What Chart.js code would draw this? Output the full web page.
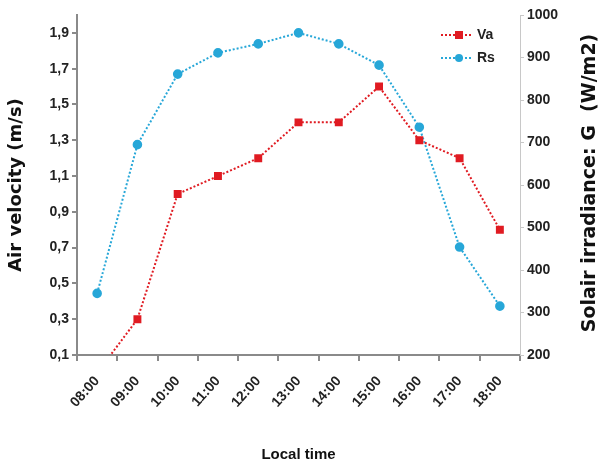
<!DOCTYPE html>
<html lang="en">
<head>
  <meta charset="UTF-8" />
  <title>Air velocity and solar irradiance</title>
  <script src="https://cdn.jsdelivr.net/npm/chart.js"></script>
  <style>
    * { margin: 0; padding: 0; box-sizing: border-box; }
    body { background: #fff; width: 604px; height: 464px; overflow: hidden; }
    canvas { display: block; }
  </style>
</head>
<body>
  <canvas id="grafico" width="604" height="464"></canvas>

<script>
  // data
  const horas = ["08:00", "09:00", "10:00", "11:00", "12:00", "13:00", "14:00", "15:00", "16:00", "17:00", "18:00"];
  const va = [0.0, 0.3, 1.0, 1.1, 1.2, 1.4, 1.4, 1.6, 1.3, 1.2, 0.8];
  const rs = [345, 695, 861, 911, 932, 958, 932, 882, 736, 454, 315];
  const ticksEsq = [0.1, 0.3, 0.5, 0.7, 0.9, 1.1, 1.3, 1.5, 1.7, 1.9];
  const ticksDir = [200, 300, 400, 500, 600, 700, 800, 900, 1000];

  const corVa = "#e01b22";
  const corRs = "#27a7d8";
  const fonte = "'Liberation Sans Narrow', 'Liberation Sans', Arial, sans-serif";
  const fonteTitulo = "'DejaVu Sans', sans-serif";

  const legendaPlugin = {
    id: "legendaDentro",
    afterDraw(chart) {
      const ctx = chart.ctx;
      const area = chart.chartArea;
      const itens = chart.data.datasets;
      ctx.save();
      itens.forEach((ds, i) => {
        const y = area.top + 20 + i * 23;
        const x0 = area.right - 79;
        ctx.strokeStyle = ds.borderColor;
        ctx.lineWidth = 2;
        ctx.setLineDash([2, 2]);
        ctx.beginPath();
        ctx.moveTo(x0, y);
        ctx.lineTo(x0 + 32, y);
        ctx.stroke();
        ctx.setLineDash([]);
        ctx.fillStyle = ds.borderColor;
        if (ds.pointStyle === "rect") {
          ctx.fillRect(x0 + 14, y - 4, 8, 8);
        } else {
          ctx.beginPath();
          ctx.arc(x0 + 18, y, 4, 0, Math.PI * 2);
          ctx.fill();
        }
        ctx.fillStyle = "#222";
        ctx.font = "bold 14px " + fonte;
        ctx.textBaseline = "middle";
        ctx.fillText(ds.label, x0 + 36, y);
      });
      // right axis title, reading bottom to top
      ctx.translate(590, (area.top + area.bottom) / 2 - 2);
      ctx.rotate(-Math.PI / 2);
      ctx.font = "bold 19px " + fonteTitulo;
      ctx.textAlign = "center";
      ctx.textBaseline = "middle";
      ctx.fillStyle = "#111";
      ctx.fillText("Solair irradiance: G  (W/m2)", 0, 0);
      ctx.restore();
    }
  };

  function virgula(v) {
    return v.toFixed(1).replace(".", ",");
  }

  new Chart(document.getElementById("grafico").getContext("2d"), {
    type: "line",
    data: {
      labels: horas,
      datasets: [
        {
          label: "Va",
          data: va,
          yAxisID: "y",
          borderColor: corVa,
          backgroundColor: corVa,
          borderWidth: 2,
          borderDash: [2, 2],
          pointStyle: "rect",
          pointRadius: 4.2,
          tension: 0,
        },
        {
          label: "Rs",
          data: rs,
          yAxisID: "y1",
          borderColor: corRs,
          backgroundColor: corRs,
          borderWidth: 2,
          borderDash: [2, 2],
          pointStyle: "circle",
          pointRadius: 3.8,
          tension: 0,
        }
      ],
    },
    options: {
      responsive: false,
      animation: false,
      layout: { padding: { top: 15, left: 0, right: 0, bottom: 0 } },
      plugins: {
        legend: { display: false },
        tooltip: { enabled: false },
      },
      scales: {
        x: {
          offset: true,
          grid: { offset: true, drawOnChartArea: false, tickLength: 6, color: "#8a8a8a", lineWidth: 2 },
          border: { color: "#8a8a8a", width: 2 },
          ticks: {
            minRotation: 48,
            maxRotation: 48,
            padding: 12,
            color: "#222",
            font: { family: fonte, size: 14, weight: "bold" },
          },
          title: {
            display: true,
            text: "Local time",
            color: "#111",
            font: { family: fonte, size: 15, weight: "bold" },
            padding: { top: 0, bottom: 0 },
          },
          afterFit(s) { s.height = 109; },
        },
        y: {
          position: "left",
          min: 0.1,
          max: 2.0,
          afterBuildTicks(s) { s.ticks = ticksEsq.map(v => ({ value: v })); },
          grid: { drawOnChartArea: false, tickLength: 5, color: "#8a8a8a", lineWidth: 2 },
          border: { color: "#8a8a8a", width: 2 },
          ticks: {
            color: "#222",
            padding: 3,
            font: { family: fonte, size: 14, weight: "bold" },
            callback: v => virgula(v),
          },
          title: {
            display: true,
            text: "Air velocity (m/s)",
            color: "#111",
            font: { family: fonteTitulo, size: 18, weight: "bold" },
            padding: { top: 6, bottom: 0 },
          },
          afterFit(s) { s.width = 77; },
        },
        y1: {
          position: "right",
          min: 200,
          max: 1000,
          afterBuildTicks(s) { s.ticks = ticksDir.map(v => ({ value: v })); },
          grid: { drawOnChartArea: false, tickLength: 4, color: "#c8c8c8" },
          border: { color: "#c8c8c8", width: 1 },
          ticks: {
            color: "#222",
            padding: 3,
            font: { family: fonte, size: 14, weight: "bold" },
            callback: v => String(v),
          },
          afterFit(s) { s.width = 84; },
        },
      },
    },
    plugins: [legendaPlugin],
  });
</script>
</body>
</html>
